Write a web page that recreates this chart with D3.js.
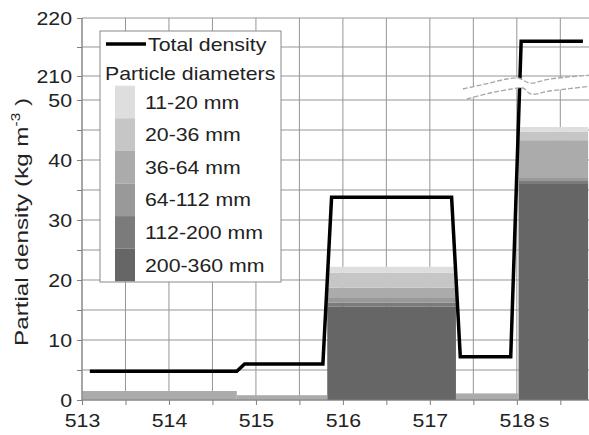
<!DOCTYPE html>
<html>
<head>
<meta charset="utf-8">
<script src="https://cdn.jsdelivr.net/npm/d3@7"></script>
<style>
  body { margin: 0; background: #fff; }
  svg { display: block; font-family: "Liberation Sans", Arial, sans-serif; }
</style>
</head>
<body>
<svg id="chart" width="589" height="435"></svg>
<script>
// particle size classes, finest first
const sizeClasses = ['11-20 mm', '20-36 mm', '36-64 mm', '64-112 mm', '112-200 mm', '200-360 mm'];
const classColors = ['#dedede', '#c6c6c6', '#ababab', '#999999', '#7b7b7b', '#666666'];

// time blocks (s)
const binStart = [513.0, 514.78, 515.82, 517.30, 518.02];
const binEnd = [514.78, 515.82, 517.30, 518.02, 518.82];

// partial density of each class per block (kg m-3)
const dens11_20 = [0, 0, 1.0, 0, 0.8];
const dens20_36 = [0, 0, 2.5, 0, 1.4];
const dens36_64 = [1.5, 0.8, 1.7, 1.1, 6.3];
const dens64_112 = [0, 0, 0.8, 0, 0.5];
const dens112_200 = [0, 0, 0.6, 0, 0.5];
const dens200_360 = [0, 0, 15.6, 0, 36.0];

// total density
const totalTime = [513.09, 514.78, 514.87, 515.77, 515.87, 517.25, 517.35, 517.93, 518.05, 518.76];
const totalValue = [4.8, 4.8, 6.0, 6.0, 33.8, 33.8, 7.2, 7.2, 216, 216];

const xTicks = [513, 514, 515, 516, 517, 518];
const xTickLabels = ['513', '514', '515', '516', '517', '518'];
const yTicksLow = [0, 10, 20, 30, 40, 50];
const yTicksHigh = [210, 220];

const svg = d3.select('#chart');
const fontSize = 19;
const stretch = 1.12;

// scales (lower and upper part of the broken axis)
const x = d3.scaleLinear().domain([513, 518.83]).range([82, 589]);
const yLow = d3.scaleLinear().domain([0, 50]).range([400, 100]);
const yHigh = d3.scaleLinear().domain([210, 220]).range([76, 18]);
const yv = v => v > 100 ? yHigh(v) : yLow(v);

// grid
const grid = svg.append('g').attr('stroke', '#959595').attr('stroke-width', 1);
const hLines = d3.range(0, 51, 5).map(yLow).concat([210, 215, 220].map(yHigh));
grid.selectAll('.h').data(hLines).enter().append('line')
  .attr('x1', x(513)).attr('x2', 589)
  .attr('y1', d => d).attr('y2', d => d);
grid.selectAll('.v').data(d3.range(513, 518.9, 0.5)).enter().append('line')
  .attr('x1', d => x(d)).attr('x2', d => x(d))
  .attr('y1', yHigh(220)).attr('y2', yLow(0));

// stacked bars
const table = binStart.map((s, i) => ({
  start: s,
  end: binEnd[i],
  '11-20 mm': dens11_20[i],
  '20-36 mm': dens20_36[i],
  '36-64 mm': dens36_64[i],
  '64-112 mm': dens64_112[i],
  '112-200 mm': dens112_200[i],
  '200-360 mm': dens200_360[i]
}));
const stackKeys = sizeClasses.slice().reverse();
const series = d3.stack().keys(stackKeys)(table);

svg.append('g').selectAll('g')
  .data(series)
  .enter().append('g')
  .attr('fill', d => classColors[sizeClasses.indexOf(d.key)])
  .selectAll('rect')
  .data(d => d)
  .enter().append('rect')
  .attr('x', d => x(d.data.start))
  .attr('width', d => x(d.data.end) - x(d.data.start))
  .attr('y', d => yLow(d[1]))
  .attr('height', d => yLow(d[0]) - yLow(d[1]));

// total density line
const line = d3.line().x(d => x(d[0])).y(d => yv(d[1]));
svg.append('path')
  .datum(totalTime.map((t, i) => [t, totalValue[i]]))
  .attr('d', line)
  .attr('fill', 'none')
  .attr('stroke', '#000')
  .attr('stroke-width', 3.5);

// axis break band
const breakY = (yLow(50) + yHigh(210)) / 2;
const bx0 = x(517.38);
const waveTop = [[0, 1], [27, -5], [44, -9], [55, -10], [67, -5], [87, -9], [130, -13]];
const waveBot = [[4, 11], [27, 5], [49, 1], [60, 0], [68, 6], [87, 3], [130, -2]];
const wTop = waveTop.map(p => [bx0 + p[0], breakY + p[1]]);
const wBot = waveBot.map(p => [bx0 + p[0], breakY + p[1]]);
const wave = d3.line().curve(d3.curveCatmullRom);
svg.append('path')
  .attr('d', wave(wTop) + 'L' + wave(wBot.slice().reverse()).slice(1) + 'Z')
  .attr('fill', '#fff');
[wTop, wBot].forEach(w => {
  svg.append('path').attr('d', wave(w))
    .attr('fill', 'none').attr('stroke', '#a8a8a8')
    .attr('stroke-width', 1.3).attr('stroke-dasharray', '5,2');
});

// axes
const yAxisLow = svg.append('g')
  .attr('transform', `translate(${x(513)},0)`)
  .call(d3.axisLeft(yLow).tickValues(d3.range(0, 51, 5))
    .tickFormat(d => yTicksLow.includes(d) ? d : '').tickSizeOuter(0).tickSize(5).tickPadding(5));
const yAxisHigh = svg.append('g')
  .attr('transform', `translate(${x(513)},0)`)
  .call(d3.axisLeft(yHigh).tickValues([210, 215, 220])
    .tickFormat(d => yTicksHigh.includes(d) ? d : '').tickSizeOuter(0).tickSize(5).tickPadding(5));
const xAxis = svg.append('g')
  .attr('transform', `translate(0,${yLow(0)})`)
  .call(d3.axisBottom(x).tickValues(d3.range(513, 518.9, 0.5))
    .tickFormat(d => { const i = xTicks.indexOf(d); return i >= 0 ? xTickLabels[i] : ''; })
    .tickSizeOuter(0).tickSize(5).tickPadding(8));

[yAxisLow, yAxisHigh, xAxis].forEach(a => {
  a.selectAll('.domain').remove();
  a.selectAll('line').attr('stroke', '#808080');
  a.selectAll('text').attr('font-size', fontSize).attr('fill', '#222')
    .attr('font-family', '"Liberation Sans", Arial, sans-serif')
    .classed('stretch', true);
});
xAxis.selectAll('text').attr('dy', '0.72em');

svg.append('line').attr('x1', x(513)).attr('x2', x(513))
  .attr('y1', yHigh(220)).attr('y2', yLow(0)).attr('stroke', '#808080');
svg.append('line').attr('x1', x(513)).attr('x2', 589)
  .attr('y1', yLow(0)).attr('y2', yLow(0)).attr('stroke', '#808080');

// unit after the last tick label
svg.append('text')
  .attr('class', 'stretch')
  .attr('x', x(518) + 22).attr('y', yLow(0) + 13).attr('dy', '0.72em')
  .attr('font-size', fontSize).attr('fill', '#222')
  .text('s');

// y title
const yTitle = svg.append('text')
  .attr('transform', `translate(28,222) rotate(-90)`)
  .attr('text-anchor', 'middle')
  .attr('font-size', fontSize).attr('fill', '#222');
yTitle.append('tspan').text('Partial density (kg m');
yTitle.append('tspan').attr('font-size', 12).attr('dy', -8).text('-3');
yTitle.append('tspan').attr('dy', 8).text(' )');
yTitle.attr('textLength', 248).attr('lengthAdjust', 'spacingAndGlyphs');

// legend
const legend = svg.append('g');
legend.append('rect')
  .attr('x', 100).attr('y', 31).attr('width', 181).attr('height', 251)
  .attr('fill', '#fff').attr('stroke', '#8a8a8a');
legend.append('line')
  .attr('x1', 106).attr('x2', 146).attr('y1', 44).attr('y2', 44)
  .attr('stroke', '#000').attr('stroke-width', 3.5);
legend.append('text').attr('class', 'stretch')
  .attr('x', 148).attr('y', 44).attr('dy', '0.35em')
  .attr('font-size', fontSize).attr('fill', '#222').text('Total density');
legend.append('text').attr('class', 'stretch')
  .attr('x', 105).attr('y', 73).attr('dy', '0.35em')
  .attr('font-size', fontSize).attr('fill', '#222').text('Particle diameters');

const itemH = 32.6;
const item = legend.selectAll('.item')
  .data(sizeClasses)
  .enter().append('g')
  .attr('transform', (d, i) => `translate(0,${102 + i * itemH})`);
item.append('rect')
  .attr('x', 115).attr('y', -itemH / 2).attr('width', 20).attr('height', itemH)
  .attr('fill', (d, i) => classColors[i]);
item.append('text').attr('class', 'stretch')
  .attr('x', 145).attr('dy', '0.35em')
  .attr('font-size', fontSize).attr('fill', '#222')
  .text(d => d);

// widen horizontal text a little, like the printed figure
svg.selectAll('text.stretch').each(function () {
  const len = this.getComputedTextLength();
  if (len > 0) {
    d3.select(this).attr('textLength', len * stretch).attr('lengthAdjust', 'spacingAndGlyphs');
  }
});
</script>
</body>
</html>
